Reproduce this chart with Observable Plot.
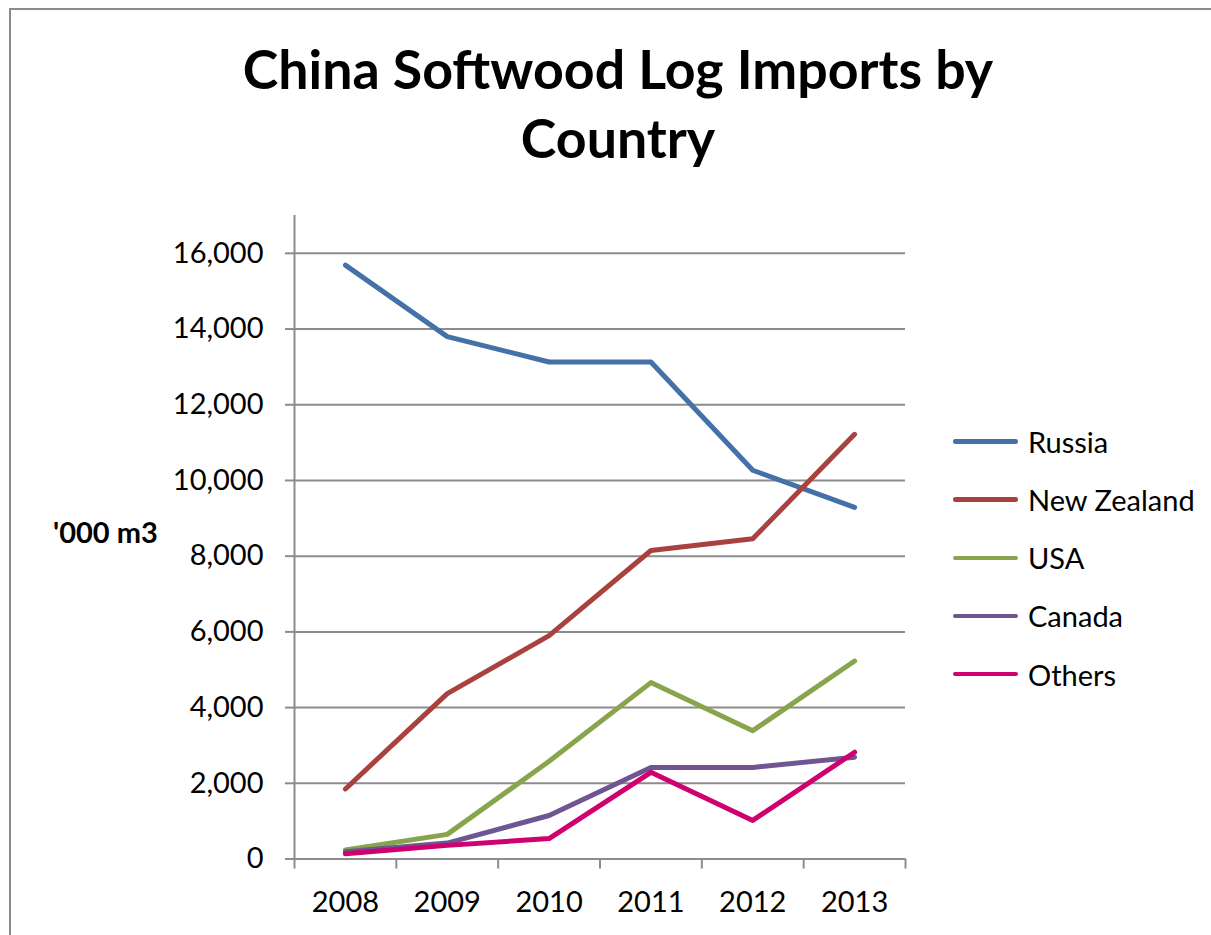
<!DOCTYPE html>
<html>
<head>
<meta charset="utf-8">
<script src="https://cdn.jsdelivr.net/npm/d3@7"></script>
<script src="https://cdn.jsdelivr.net/npm/@observablehq/plot@0.6"></script>
<style>
  html, body { margin: 0; padding: 0; background: #fff; overflow: hidden; }
  body { width: 1211px; height: 935px; position: relative; font-family: Lato, "Open Sans", sans-serif; color: #000; }
  #frame { position: absolute; left: 9px; top: 8px; width: 1400px; height: 1100px; border-left: 2px solid #8c8c8c; border-top: 2px solid #8c8c8c; box-sizing: border-box; }
  #title { position: absolute; left: 0; width: 1236px; top: 34px; text-align: center; font-weight: 700; font-size: 50px; line-height: 69px; white-space: nowrap; }
  #chart { position: absolute; left: 0; top: 0; }
  #ylabel { position: absolute; left: 53px; top: 0; font-weight: 700; font-size: 29px; line-height: 1; }
  #legend { position: absolute; left: 953px; top: 412.6px; }
  .row { height: 58.1px; display: flex; align-items: center; font-size: 29px; }
  .sw { width: 65px; height: 4.5px; border-radius: 2.25px; margin-right: 10px; }
</style>
</head>
<body>
<div id="frame"></div>
<div id="title"><span id="t1">China Softwood Log Imports by</span><br><span id="t2">Country</span></div>
<div id="chart"></div>
<div id="ylabel">'000 m3</div>
<div id="legend"></div>
<script>
// ---- data ----
const years = [2008, 2009, 2010, 2011, 2012, 2013];
const seriesNames = ["Russia", "New Zealand", "USA", "Canada", "Others"];
const seriesColors = ["#4571A9", "#A9423F", "#88A44D", "#6F5591", "#CF006F"];
const russia     = [15690, 13800, 13130, 13130, 10270, 9290];
const newZealand = [1850, 4370, 5900, 8150, 8460, 11220];
const usa        = [240, 650, 2580, 4660, 3390, 5230];
const canada     = [190, 420, 1150, 2420, 2420, 2690];
const others     = [140, 360, 540, 2290, 1020, 2820];
const yTicks = [0, 2000, 4000, 6000, 8000, 10000, 12000, 14000, 16000];
const yMax = 17000;

const seriesValues = [russia, newZealand, usa, canada, others];
const table = seriesNames.flatMap((name, s) =>
  years.map((year, i) => ({series: name, year, value: seriesValues[s][i]}))
);
// category boundaries (tick marks between years)
const boundaries = years.map(y => y - 0.5).concat([years[years.length - 1] + 0.5]);

const W = 1211, H = 935;
const gridColor = "#8c8c8c";
const tickFont = 29;

const plot = Plot.plot({
  width: W,
  height: H,
  marginLeft: 294,
  marginRight: 306,
  marginTop: 215,
  marginBottom: 76.5,
  style: {fontFamily: "Lato, 'Open Sans', sans-serif", fontSize: tickFont + "px", color: "#000", background: "transparent"},
  x: {type: "linear", domain: [boundaries[0], boundaries[boundaries.length - 1]]},
  y: {domain: [0, yMax]},
  color: {domain: seriesNames, range: seriesColors},
  marks: [
    Plot.ruleY(yTicks.filter(t => t > 0), {stroke: gridColor, strokeWidth: 2}),
    Plot.ruleX([boundaries[0]], {y1: yMax, y2: 0, stroke: gridColor, strokeWidth: 2}),
    Plot.ruleY([0], {stroke: gridColor, strokeWidth: 2}),
    Plot.axisY({ticks: yTicks, tickSize: 9, tickPadding: 22, tickFormat: d3.format(","), label: null,
                stroke: gridColor, strokeWidth: 2, fill: "#000", fontSize: tickFont}),
    Plot.axisX({ticks: boundaries, tickSize: 10, tickFormat: () => "", label: null,
                stroke: gridColor, strokeWidth: 2}),
    Plot.axisX({ticks: years, tickSize: 0, tickPadding: 32.5, tickFormat: d => String(d), label: null,
                fill: "#000", fontSize: tickFont}),
    Plot.line(table, {x: "year", y: "value", z: "series", stroke: "series",
                      strokeWidth: 5, strokeLinecap: "round", strokeLinejoin: "round"})
  ]
});
document.getElementById("chart").appendChild(plot);

// legend
const legend = document.getElementById("legend");
seriesNames.forEach((name, i) => {
  const row = document.createElement("div");
  row.className = "row";
  const sw = document.createElement("div");
  sw.className = "sw";
  sw.style.background = seriesColors[i];
  const label = document.createElement("span");
  label.textContent = name;
  row.appendChild(sw);
  row.appendChild(label);
  legend.appendChild(row);
});

// fit title width to reference (~750px for first line)
const t1 = document.getElementById("t1");
const title = document.getElementById("title");
const w = t1.getBoundingClientRect().width;
if (w > 0) {
  const fs = 50 * 750 / w;
  title.style.fontSize = fs.toFixed(1) + "px";
}
// y label baseline at ~546
const yl = document.getElementById("ylabel");
yl.style.top = (546 - 29 * 0.987) + "px";
</script>
</body>
</html>
